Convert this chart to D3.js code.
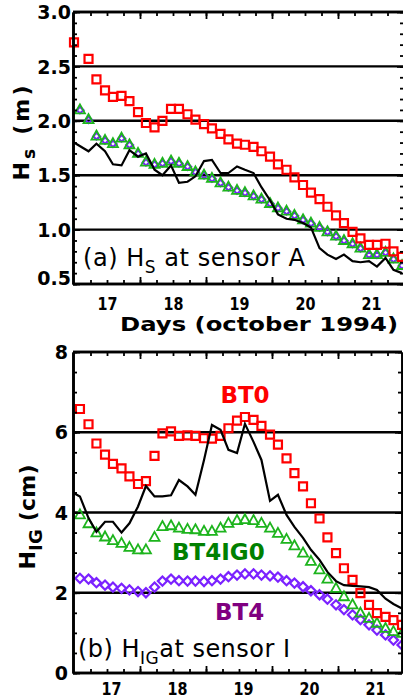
<!DOCTYPE html>
<html><head><meta charset="utf-8">
<script src="https://cdn.jsdelivr.net/npm/d3@7/dist/d3.min.js"></script>
<style>body{margin:0;background:#fff;}svg{display:block;font-family:"DejaVu Sans",sans-serif;}</style>
</head><body>
<svg id="chart" width="403" height="698"></svg>
<script>
// ---------------- data ----------------
const days = [16.59, 16.72, 16.84, 16.97, 17.09, 17.22, 17.34, 17.47, 17.59, 17.72,
  17.84, 17.97, 18.09, 18.22, 18.34, 18.47, 18.59, 18.72, 18.84, 18.97,
  19.09, 19.22, 19.34, 19.47, 19.59, 19.72, 19.84, 19.97, 20.09, 20.22,
  20.34, 20.47, 20.59, 20.72, 20.84, 20.97, 21.09, 21.22, 21.34, 21.47];
const firstDayA = 16.50;

// (a) Hs at sensor A (m)
const hsBT0 = [2.72, 2.57, 2.38, 2.28, 2.22, 2.23, 2.18, 2.08, 1.98, 1.94, 2.00, 2.11, 2.11, 2.06, 2.01, 1.97, 1.93, 1.88, 1.83, 1.79,
  1.78, 1.76, 1.72, 1.67, 1.60, 1.55, 1.48, 1.41, 1.34, 1.28, 1.21, 1.13, 1.06, 0.98, 0.92, 0.86, 0.86, 0.87, 0.80, 0.75];
const hsBT4IG0 = [2.10, 2.01, 1.86, 1.82, 1.79, 1.84, 1.78, 1.70, 1.62, 1.60, 1.61, 1.63, 1.61, 1.58, 1.53, 1.50, 1.47, 1.43, 1.39, 1.36,
  1.34, 1.31, 1.28, 1.24, 1.20, 1.17, 1.13, 1.09, 1.06, 1.02, 0.98, 0.94, 0.90, 0.87, 0.83, 0.77, 0.77, 0.79, 0.73, 0.67];
const hsBT4 = [2.10, 2.01, 1.86, 1.82, 1.79, 1.84, 1.78, 1.70, 1.62, 1.60, 1.61, 1.63, 1.61, 1.58, 1.53, 1.50, 1.47, 1.43, 1.39, 1.36,
  1.34, 1.31, 1.28, 1.24, 1.20, 1.17, 1.13, 1.09, 1.06, 1.02, 0.98, 0.94, 0.90, 0.87, 0.83, 0.77, 0.77, 0.79, 0.73, 0.67];
const hsObs = [1.80, 1.72, 1.79, 1.72, 1.60, 1.59, 1.73, 1.67, 1.70, 1.55, 1.50, 1.59, 1.43, 1.44, 1.49, 1.63, 1.64, 1.52, 1.52, 1.58,
  1.55, 1.52, 1.39, 1.27, 1.14, 1.10, 1.09, 1.06, 1.02, 0.83, 0.77, 0.73, 0.77, 0.71, 0.70, 0.71, 0.66, 0.74, 0.63, 0.60];

// (b) HIG at sensor I (cm)
const igBT0 = [6.58, 6.20, 5.72, 5.44, 5.21, 5.10, 4.90, 4.71, 4.78, 5.41, 5.97, 6.02, 5.91, 5.92, 5.91, 5.85, 5.84, 5.91, 6.10, 6.29,
  6.38, 6.31, 6.16, 5.94, 5.69, 5.35, 4.98, 4.65, 4.23, 3.85, 3.38, 2.99, 2.61, 2.32, 1.99, 1.70, 1.49, 1.40, 1.32, 1.20];
const igBT4IG0 = [3.94, 3.72, 3.49, 3.39, 3.30, 3.23, 3.13, 3.07, 3.07, 3.38, 3.65, 3.67, 3.61, 3.58, 3.57, 3.53, 3.53, 3.61, 3.73, 3.80,
  3.82, 3.80, 3.73, 3.61, 3.48, 3.33, 3.17, 2.99, 2.78, 2.57, 2.34, 2.11, 1.90, 1.70, 1.49, 1.36, 1.24, 1.11, 1.03, 0.99];
const igBT4 = [2.36, 2.34, 2.25, 2.19, 2.14, 2.11, 2.07, 2.03, 2.00, 2.14, 2.29, 2.34, 2.30, 2.29, 2.29, 2.28, 2.30, 2.34, 2.40, 2.44,
  2.47, 2.47, 2.44, 2.42, 2.39, 2.30, 2.24, 2.15, 2.05, 1.95, 1.84, 1.70, 1.58, 1.45, 1.33, 1.20, 1.07, 0.95, 0.82, 0.70];
const igObs = [4.48, 4.40, 3.86, 3.52, 3.77, 3.77, 3.50, 3.73, 4.15, 4.66, 4.40, 4.40, 4.43, 4.81, 4.65, 4.44, 5.31, 6.18, 6.06, 5.56,
  5.48, 6.21, 5.76, 5.31, 4.29, 4.44, 3.94, 3.64, 3.37, 3.07, 2.82, 2.52, 2.29, 2.19, 2.17, 2.16, 2.14, 2.07, 1.85, 1.72, 1.61];

// ticks
const dayTicks = [17, 18, 19, 20, 21];
const dayMajorTicks = [17.5, 18.5, 19.5, 20.5];
const hsTicks = [0.5, 1.0, 1.5, 2.0, 2.5, 3.0];
const hsGrid = [1.0, 1.5, 2.0, 2.5];
const igTicks = [0, 2, 4, 6, 8];
const igGrid = [2, 4, 6];

// ---------------- drawing ----------------
const RED = "#ff0000", GREEN = "#1db41d", PURPLE = "#7b22ff";
const svg = d3.select("#chart");
const x = d3.scaleLinear().domain([16.5, 21.5]).range([74, 404]);

const sqPath = "M-4,-4H4V4H-4Z";
const triPath = "M0,-5.5L5,3.5L-5,3.5Z";
const diaPath = "M0,-4.6L4.6,0L0,4.6L-4.6,0Z";
const diaSmallPath = "M0,-3.2L3.6,0.3L0,3.4L-3.2,0.3Z";

function zip(xs, ys) { return ys.map((v, i) => [xs[i], v]); }

function drawPanel(p) {
  const y = d3.scaleLinear().domain(p.domain).range([p.bottom, p.top]);
  const g = svg.append("g");
  const left = 73;

  // gridlines
  g.selectAll("line.grid").data(p.grid).join("line")
    .attr("x1", left).attr("x2", p.right)
    .attr("y1", d => y(d)).attr("y2", d => y(d))
    .attr("stroke", "#000").attr("stroke-width", 2.4);

  // symbol series
  function symbols(data, path, color, sw) {
    g.append("g").selectAll("path").data(data).join("path")
      .attr("d", path)
      .attr("transform", d => `translate(${x(d[0])},${y(d[1])})`)
      .attr("fill", "none").attr("stroke", color).attr("stroke-width", sw);
  }
  symbols(p.bt4, p.diamond, PURPLE, 2.2);
  symbols(p.bt4ig0, triPath, GREEN, 1.8);
  symbols(p.bt0, sqPath, RED, 2.2);

  // observed line
  g.append("path").datum(p.obs)
    .attr("d", d3.line().x(d => x(d[0])).y(d => y(d[1])))
    .attr("fill", "none").attr("stroke", "#000").attr("stroke-width", 2.2)
    .attr("stroke-linejoin", "miter");

  // axes
  const styleAxis = sel => { sel.select(".domain").attr("stroke-width", 2.6); sel.selectAll(".tick line").attr("stroke-width", 1.8); };
  const minorY = d3.range(p.domain[0], p.domain[1] + 1e-9, p.minorStep);
  const minorX = d3.range(16.75, 21.5, 0.25);

  const gl = g.append("g").attr("transform", `translate(${left},0)`)
    .call(d3.axisLeft(y).tickValues(p.ticks).tickSize(-7).tickSizeOuter(0).tickPadding(p.labelPad).tickFormat(p.fmt));
  gl.call(styleAxis);
  gl.selectAll("text").attr("font-size", 19).attr("font-weight", "bold").attr("fill", "#000")
    .attr("font-family", "DejaVu Sans").attr("dy", d => p.labelDy(d));
  g.append("g").attr("transform", `translate(${left},0)`)
    .call(d3.axisLeft(y).tickValues(minorY).tickSize(-4).tickSizeOuter(0).tickFormat(""))
    .call(styleAxis);
  g.append("g").attr("transform", `translate(${p.right},0)`)
    .call(d3.axisRight(y).tickValues(minorY).tickSize(-4).tickSizeOuter(0).tickFormat(""))
    .call(styleAxis);
  g.append("g").attr("transform", `translate(${p.right},0)`)
    .call(d3.axisRight(y).tickValues(p.ticks).tickSize(-7).tickSizeOuter(0).tickFormat(""))
    .call(styleAxis);

  [[p.top, d3.axisTop], [p.bottom, d3.axisBottom]].forEach(([yy, ax]) => {
    const xs = x.copy().range([74 - left, 404 - left]);
    g.append("g").attr("transform", `translate(${left},${yy})`)
      .call(ax(xs).tickValues(minorX).tickSize(-4).tickSizeOuter(0).tickFormat(""))
      .call(styleAxis).select(".domain").attr("d", `M0,0H${p.right - left}`);
    g.append("g").attr("transform", `translate(${left},${yy})`)
      .call(ax(xs).tickValues(dayMajorTicks).tickSize(-7).tickSizeOuter(0).tickFormat(""))
      .call(styleAxis).select(".domain").attr("d", `M0,0H${p.right - left}`);
  });
  const gb = g.append("g").attr("transform", `translate(0,${p.bottom})`)
    .call(d3.axisBottom(x).tickValues(dayTicks).tickSize(0).tickFormat(d3.format("d")));
  gb.select(".domain").remove();
  gb.selectAll("text").attr("font-size", 18).attr("font-weight", "bold").attr("fill", "#000")
    .attr("font-family", "DejaVu Sans").attr("y", p.dayLabelY).attr("dy", 0).attr("dx", p.dayDx)
    .attr("textLength", 20).attr("lengthAdjust", "spacingAndGlyphs");
  return y;
}

drawPanel({
  top: 12, bottom: 284, right: 404, domain: [0.5, 3.0], ticks: hsTicks, grid: hsGrid, minorStep: 0.1,
  fmt: d3.format(".1f"), labelPad: 2, labelDy: d => d === 0.5 ? "0.05em" : "0.35em",
  dayLabelY: 26, dayDx: 0, diamond: diaSmallPath,
  bt0: zip([firstDayA].concat(days.slice(1)), hsBT0),
  bt4ig0: zip(days, hsBT4IG0), bt4: zip(days, hsBT4),
  obs: zip([firstDayA].concat(days.slice(1)), hsObs)
});
drawPanel({
  top: 352, bottom: 673, right: 402, domain: [0, 8], ticks: igTicks, grid: igGrid, minorStep: 0.5,
  fmt: d3.format("d"), labelPad: 5, labelDy: d => "0.35em",
  dayLabelY: 22, dayDx: 4, diamond: diaPath,
  bt0: zip(days, igBT0), bt4ig0: zip(days, igBT4IG0), bt4: zip(days, igBT4),
  obs: zip([firstDayA].concat(days), igObs)
});

// ---------------- texts ----------------
svg.append("text").attr("x", 120).attr("y", 331).attr("font-size", 20).attr("font-weight", "bold")
  .attr("textLength", 278).attr("lengthAdjust", "spacingAndGlyphs").text("Days (october 1994)");

function subText(xp, yp, size, weight, parts, rot, len) {
  const t = svg.append("text").attr("font-size", size).attr("font-weight", weight);
  if (rot) t.attr("transform", `translate(${xp},${yp}) rotate(-90)`).attr("text-anchor", "middle");
  else t.attr("x", xp).attr("y", yp);
  parts.forEach(pt => {
    const s = t.append("tspan").text(pt.t);
    if (pt.size) s.attr("font-size", pt.size);
    if (pt.dy) s.attr("dy", pt.dy);
  });
  if (len) t.attr("textLength", len).attr("lengthAdjust", "spacing");
  return t;
}
subText(83, 266, 24, "normal", [{t: "(a) H"}, {t: "S", size: 17, dy: 7}, {t: " at sensor A", dy: -7}], false, 222);
subText(78, 657, 24, "normal", [{t: "(b) H"}, {t: "IG", size: 17, dy: 7}, {t: "at sensor I", dy: -7}], false, 212);
subText(29, 133, 22, "bold", [{t: "H"}, {t: "s", size: 17, dy: 6}, {t: " (m)", dy: -6}], true, 95);
subText(35, 517, 22, "bold", [{t: "H"}, {t: "IG", size: 18, dy: 7}, {t: " (cm)", dy: -7}], true, 105);

svg.append("text").attr("x", 245).attr("y", 403).attr("text-anchor", "middle").attr("font-size", 23)
  .attr("font-weight", "bold").attr("fill", RED).text("BT0");
svg.append("text").attr("x", 172).attr("y", 560).attr("font-size", 23)
  .attr("font-weight", "bold").attr("fill", "#008000").text("BT4IG0");
svg.append("text").attr("x", 215).attr("y", 620).attr("font-size", 23)
  .attr("font-weight", "bold").attr("fill", "#800080").text("BT4");
</script>
</body></html>
